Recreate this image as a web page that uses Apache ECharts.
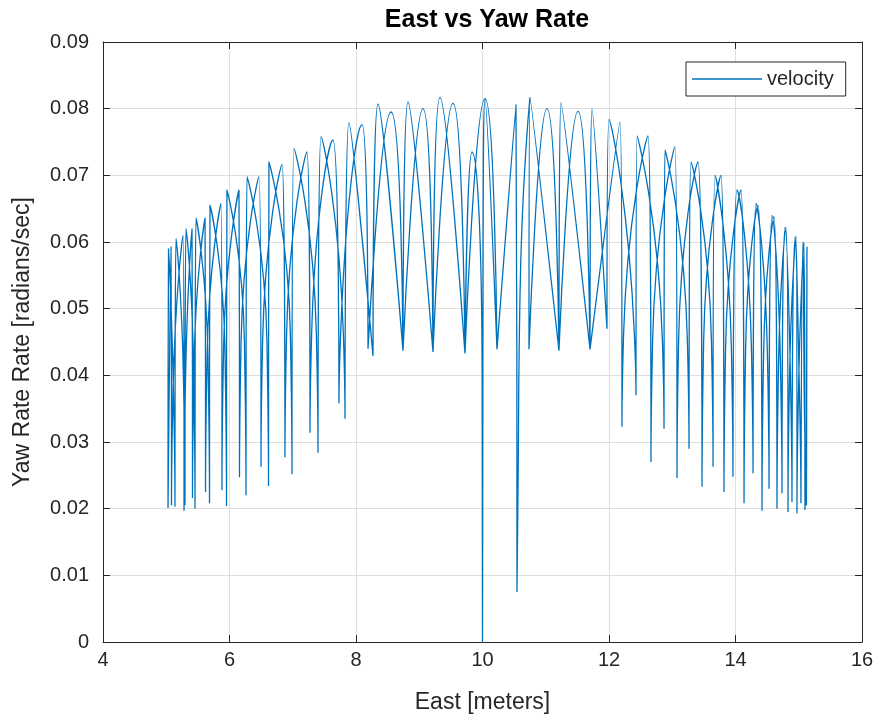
<!DOCTYPE html>
<html>
<head>
<meta charset="utf-8">
<script src="https://cdn.jsdelivr.net/npm/echarts@6/dist/echarts.min.js"></script>
<style>html,body{margin:0;padding:0;background:#fff}#c{width:880px;height:722px}</style>
</head>
<body>
<div id="c"></div>
<script>
// ---- data (East [m], Yaw rate [rad/s]) ----
// "A" arches: steep rise from a trough to the peak, slow fall to the next trough.
// "B" arches: slow rise from a trough to the peak, steep fall to the next trough.
// Left half
const leftATroughX = [5.028, 5.138, 5.296, 5.455, 5.684, 5.953, 6.261, 6.617, 6.988, 7.399, 7.826, 8.269, 8.743, 9.217, 9.723];
const leftATroughY = [0.0201, 0.0203, 0.0205, 0.0200, 0.0208, 0.0204, 0.0220, 0.0234, 0.0252, 0.0284, 0.0335, 0.0429, 0.0437, 0.0435, 0.0433];
const leftAPeakX   = [5.036, 5.154, 5.312, 5.470, 5.692, 5.960, 6.277, 6.624, 7.020, 7.447, 7.889, 8.348, 8.822, 9.328];
const leftAPeakY   = [0.0590, 0.0605, 0.0620, 0.0636, 0.0655, 0.0678, 0.0698, 0.0720, 0.0740, 0.0758, 0.0779, 0.0807, 0.0810, 0.0817];
const leftABase    = [0.038, 0.040, 0.042, 0.043, 0.044, 0.045, 0.045, 0.046, 0.046, 0.046, 0, 0, 0, 0];

const leftBTroughX = [5.028, 5.083, 5.281, 5.415, 5.621, 5.881, 6.158, 6.498, 6.877, 7.273, 7.731, 8.190, 8.743, 9.217, 9.723, 10.229];
const leftBTroughY = [0.0201, 0.0205, 0.0197, 0.0216, 0.0225, 0.0228, 0.0247, 0.0263, 0.0277, 0.0314, 0.0358, 0.0440, 0.0437, 0.0435, 0.0433, 0.0439];
const leftBPeakX   = [5.075, 5.265, 5.407, 5.613, 5.866, 6.150, 6.466, 6.830, 7.225, 7.636, 8.095, 8.553, 9.059, 9.534, 10.040];
const leftBPeakY   = [0.0593, 0.0610, 0.0620, 0.0636, 0.0658, 0.0678, 0.0698, 0.0716, 0.0735, 0.0753, 0.0776, 0.0795, 0.0800, 0.0808, 0.0815];
const leftBBase    = [0, 0.038, 0.040, 0.042, 0.043, 0.044, 0.045, 0.045, 0.046, 0.046, 0.046, 0, 0, 0, 0];

// Centre: the two deep spikes near 10.0 m and 10.5 m (null = break in the line)
const centerX = [9.723, 9.834, 9.994, 10.000, null, 10.000, 10.006, 10.040, 10.229, null, 10.229, 10.529, 10.545, null, 10.545, 10.560, 10.593, 10.751];
const centerY = [0.0433, 0.0735, 0.0405, 0.0000, null, 0.0000, 0.0405, 0.0815, 0.0439, null, 0.0439, 0.0806, 0.0075, null, 0.0075, 0.0214, 0.0520, 0.0817];

// Right half
const rightATroughX = [10.735, 11.209, 11.700, 11.968, 12.427, 12.870, 13.265, 13.645, 13.960, 14.277, 14.530, 14.735, 14.893, 15.035, 15.114];
const rightATroughY = [0.0439, 0.0437, 0.0439, 0.0470, 0.0370, 0.0320, 0.0290, 0.0263, 0.0248, 0.0253, 0.0230, 0.0223, 0.0210, 0.0208, 0.0205];
const rightAPeakX   = [10.751, 11.241, 11.731, 12.000, 12.443, 12.885, 13.296, 13.676, 14.024, 14.324, 14.577, 14.783, 14.941, 15.067];
const rightAPeakY   = [0.0817, 0.0809, 0.0800, 0.0784, 0.0759, 0.0738, 0.0720, 0.0700, 0.0678, 0.0658, 0.0640, 0.0622, 0.0607, 0.0600];
const rightABase    = [0, 0, 0, 0.046, 0.045, 0.045, 0.045, 0.044, 0.044, 0.043, 0.042, 0.040, 0.038, 0.035];

const rightBTroughX = [10.735, 11.209, 11.700, 12.205, 12.664, 13.075, 13.471, 13.818, 14.135, 14.419, 14.656, 14.830, 14.972, 15.098, 15.122];
const rightBTroughY = [0.0439, 0.0437, 0.0439, 0.0323, 0.0270, 0.0246, 0.0233, 0.0225, 0.0208, 0.0197, 0.0200, 0.0195, 0.0193, 0.0198, 0.0205];
const rightBPeakX   = [11.020, 11.510, 12.174, 12.617, 13.043, 13.407, 13.771, 14.087, 14.356, 14.609, 14.799, 14.957, 15.083, 15.130];
const rightBPeakY   = [0.0800, 0.0796, 0.0780, 0.0759, 0.0743, 0.0720, 0.0700, 0.0678, 0.0655, 0.0638, 0.0622, 0.0609, 0.0599, 0.0593];
const rightBBase    = [0, 0, 0, 0.046, 0.045, 0.045, 0.045, 0.044, 0.044, 0.043, 0.042, 0.040, 0.038, 0.035];

const xTicks = [4, 6, 8, 10, 12, 14, 16];
const yTicks = [0, 0.01, 0.02, 0.03, 0.04, 0.05, 0.06, 0.07, 0.08, 0.09];

// ---- build the polyline (segments separated by gaps) ----
const GAP = ['-', '-'];
const OFF = 0.025;
function chainA(tx, ty, px, py, base, out) {
  for (let k = 0; k < px.length; k++) {
    out.push([tx[k], ty[k]], [px[k], py[k]]);
    if (base[k] > ty[k + 1] + 0.001) out.push([tx[k + 1] - OFF, base[k]]);
    out.push([tx[k + 1], ty[k + 1]], GAP);
  }
}
function chainB(tx, ty, px, py, base, out) {
  for (let k = 0; k < px.length; k++) {
    out.push([tx[k], ty[k]]);
    if (base[k] > ty[k] + 0.001) out.push([tx[k] + OFF, base[k]]);
    out.push([px[k], py[k]], [tx[k + 1], ty[k + 1]], GAP);
  }
}
const data = [];
chainA(leftATroughX, leftATroughY, leftAPeakX, leftAPeakY, leftABase, data);
chainB(leftBTroughX, leftBTroughY, leftBPeakX, leftBPeakY, leftBBase, data);
for (let i = 0; i < centerX.length; i++) {
  data.push(centerX[i] === null ? GAP : [centerX[i], centerY[i]]);
}
data.push(GAP);
chainA(rightATroughX, rightATroughY, rightAPeakX, rightAPeakY, rightABase, data);
chainB(rightBTroughX, rightBTroughY, rightBPeakX, rightBPeakY, rightBBase, data);

const FONT = 'Liberation Sans, Arial, Helvetica, sans-serif';
const gridColor = '#dedede';
const axisColor = '#262626';
const labelStyle = { color: '#262626', fontSize: 20, fontFamily: FONT };

const chart = echarts.init(document.getElementById('c'), null, { renderer: 'canvas' });
chart.setOption({
  animation: false,
  backgroundColor: '#ffffff',
  title: {
    text: 'East vs Yaw Rate', left: 482, top: 3, textAlign: 'center',
    textStyle: { fontFamily: FONT, fontWeight: 'bold', fontSize: 25, color: '#000' }
  },
  legend: {
    data: ['velocity'], left: 686, top: 62, orient: 'vertical',
    icon: 'rect',
    backgroundColor: '#fff', borderColor: axisColor, borderWidth: 1, borderRadius: 0,
    padding: [6, 12, 6, 6], itemWidth: 70, itemHeight: 1.5, itemGap: 0,
    textStyle: { fontFamily: FONT, fontSize: 20, color: '#262626', lineHeight: 22 }
  },
  grid: { left: 103, right: 18, top: 42, bottom: 80, containLabel: false },
  xAxis: [{
    type: 'value', min: 4, max: 16, interval: 2,
    name: 'East [meters]', nameLocation: 'middle', nameGap: 49,
    nameTextStyle: { fontFamily: FONT, fontSize: 23, color: '#262626' },
    axisLine: { show: true, onZero: false, lineStyle: { color: axisColor, width: 1 } },
    axisTick: { show: true, inside: true, length: 7, lineStyle: { color: axisColor } },
    axisLabel: Object.assign({ margin: 8, formatter: v => xTicks.includes(v) ? String(v) : '' }, labelStyle),
    splitLine: { show: true, lineStyle: { color: gridColor, width: 1 } }
  }, {
    type: 'value', min: 4, max: 16, interval: 2, position: 'top',
    axisLine: { show: true, onZero: false, lineStyle: { color: axisColor, width: 1 } },
    axisTick: { show: true, inside: true, length: 7, lineStyle: { color: axisColor } },
    axisLabel: { show: false }, splitLine: { show: false }
  }],
  yAxis: [{
    type: 'value', min: 0, max: 0.09, interval: 0.01,
    name: 'Yaw Rate Rate [radians/sec]', nameLocation: 'middle', nameGap: 69, nameRotate: 90,
    nameTextStyle: { fontFamily: FONT, fontSize: 23, color: '#262626' },
    axisLine: { show: true, onZero: false, lineStyle: { color: axisColor, width: 1 } },
    axisTick: { show: true, inside: true, length: 7, lineStyle: { color: axisColor } },
    axisLabel: Object.assign({ margin: 14, formatter: v => {
      const t = yTicks.find(y => Math.abs(y - v) < 1e-9);
      return t === undefined ? '' : (t === 0 ? '0' : t.toFixed(2));
    } }, labelStyle),
    splitLine: { show: true, lineStyle: { color: gridColor, width: 1 } }
  }, {
    type: 'value', min: 0, max: 0.09, interval: 0.01, position: 'right',
    axisLine: { show: true, onZero: false, lineStyle: { color: axisColor, width: 1 } },
    axisTick: { show: true, inside: true, length: 7, lineStyle: { color: axisColor } },
    axisLabel: { show: false }, splitLine: { show: false }
  }],
  series: [{
    name: 'velocity', type: 'line', xAxisIndex: 0, yAxisIndex: 0,
    data: data, symbol: 'none', smooth: 0.6, connectNulls: false,
    lineStyle: { color: '#0072BD', width: 1.3 }, itemStyle: { color: '#0072BD' },
    clip: true
  }]
});
</script>
</body>
</html>
